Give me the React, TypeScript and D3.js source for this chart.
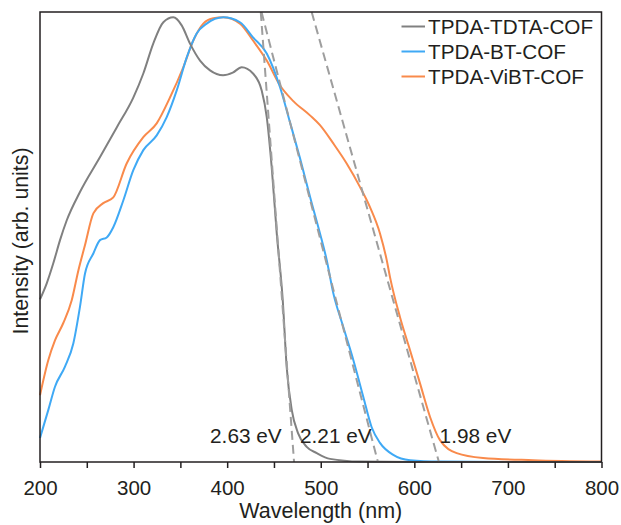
import React, { useEffect, useRef } from 'react';
import * as d3 from 'd3';

// TPDA-TDTA-COF (grey)
const tdtaNm = [200, 207.2, 214.2, 221.4, 228.5, 242.7, 264, 282, 299.7, 310.4, 321, 331.8, 342.4, 351.4, 360.3, 371, 381.7, 395.6, 406, 415.5, 427.6, 436.9, 442.3, 447.6, 453, 459.4, 463.6, 469, 475.7, 485, 495.7, 509.9, 542, 600, 800];
const tdtaI = [0.365, 0.401, 0.446, 0.498, 0.542, 0.606, 0.684, 0.751, 0.818, 0.872, 0.939, 0.987, 0.998, 0.98, 0.939, 0.901, 0.879, 0.868, 0.874, 0.886, 0.872, 0.834, 0.774, 0.661, 0.513, 0.363, 0.213, 0.117, 0.065, 0.034, 0.02, 0.007, 0.001, 0, 0];

// TPDA-BT-COF (blue)
const btNm = [200, 208.9, 216, 226.7, 235.6, 242.7, 248.1, 257, 264.1, 271.3, 278.3, 289, 299.7, 310.4, 324.7, 335.4, 346.1, 356.8, 367.4, 378.1, 395.9, 413.7, 427.6, 442.3, 456.5, 467.2, 477.8, 489.6, 499.2, 506.4, 513.4, 524.1, 534.8, 545.5, 554.4, 563.3, 577.5, 595.4, 627.4, 700, 800];
const btI = [0.054, 0.117, 0.169, 0.214, 0.266, 0.348, 0.423, 0.468, 0.498, 0.504, 0.527, 0.587, 0.655, 0.7, 0.733, 0.774, 0.834, 0.908, 0.962, 0.984, 0.998, 0.987, 0.953, 0.917, 0.841, 0.762, 0.682, 0.587, 0.513, 0.453, 0.379, 0.303, 0.229, 0.146, 0.078, 0.043, 0.016, 0.004, 0.001, 0, 0];

// TPDA-ViBT-COF (orange)
const vibtNm = [200, 208.9, 216, 224.9, 233.9, 241, 248.1, 257, 267.6, 278.3, 292.6, 310.4, 324.7, 338.9, 353.1, 363.8, 374.5, 385.2, 395.9, 413.7, 427.6, 442.3, 456.5, 470.7, 488.5, 499.2, 513.4, 527.7, 542, 552.6, 563.3, 570.5, 574, 584.7, 595.4, 606, 616.8, 627.4, 645.3, 673.4, 726.8, 800];
const vibtI = [0.15, 0.229, 0.273, 0.312, 0.363, 0.43, 0.487, 0.558, 0.581, 0.594, 0.67, 0.729, 0.76, 0.818, 0.886, 0.946, 0.984, 0.996, 0.998, 0.984, 0.946, 0.901, 0.845, 0.81, 0.778, 0.756, 0.715, 0.67, 0.617, 0.572, 0.513, 0.453, 0.415, 0.325, 0.251, 0.177, 0.101, 0.049, 0.02, 0.009, 0.004, 0.001];

const seriesNames = ['TPDA-TDTA-COF', 'TPDA-BT-COF', 'TPDA-ViBT-COF'];
const seriesColors = ['#808080', '#3fa9f5', '#f98a4b'];

// band gap tangents: where the dashed line leaves the top frame, and the gap labels
const gapEv = [2.63, 2.21, 1.98];
const tangentTopNm = [435.9, 436.7, 490.3];
const gapLabelNm = [381.7, 477.8, 627];

const xTicks = [200, 300, 400, 500, 600, 700, 800];
const xMinorTicks = [250, 350, 450, 550, 650, 750];

const FONT = '"Liberation Sans", Arial, Helvetica, sans-serif';

const AbsorptionChart = () => {
  const ref = useRef<SVGSVGElement>(null);

  useEffect(() => {
    const svg = d3.select(ref.current);
    svg.selectAll('*').remove();

    const margin = { top: 12, right: 19.5, bottom: 63, left: 40 };
    const width = 621;
    const height = 525;
    const yMax = 1.01;

    const x = d3.scaleLinear().domain([200, 800]).range([margin.left, width - margin.right]);
    const y = d3.scaleLinear().domain([0, yMax]).range([height - margin.bottom, margin.top]);

    const line = d3.line<[number, number]>()
      .x(d => x(d[0]))
      .y(d => y(d[1]))
      .curve(d3.curveMonotoneX);

    const series = [
      { nm: tdtaNm, val: tdtaI },
      { nm: btNm, val: btI },
      { nm: vibtNm, val: vibtI },
    ];

    // curves, grey drawn last so it sits on top like the original
    [2, 1, 0].forEach(i => {
      const pts = series[i].nm.map((n, k) => [n, series[i].val[k]] as [number, number]);
      svg.append('path')
        .attr('d', line(pts))
        .attr('fill', 'none')
        .attr('stroke', seriesColors[i])
        .attr('stroke-width', 2)
        .attr('stroke-linejoin', 'round');
    });

    // tangent lines
    gapEv.forEach((ev, i) => {
      svg.append('line')
        .attr('x1', x(tangentTopNm[i]))
        .attr('y1', y(yMax))
        .attr('x2', x(1240 / ev))
        .attr('y2', y(0))
        .attr('stroke', '#9e9e9e')
        .attr('stroke-width', 2)
        .attr('stroke-dasharray', '9,5');

      svg.append('text')
        .attr('x', x(gapLabelNm[i]))
        .attr('y', y(0.043))
        .attr('font-family', FONT)
        .attr('font-size', 20.8)
        .attr('fill', '#231f20')
        .text(`${ev.toFixed(2)} eV`);
    });

    // x axis with minor ticks
    const gx = svg.append('g').attr('transform', `translate(0,${height - margin.bottom})`);
    gx.call(d3.axisBottom(x).tickValues(xTicks).tickSize(6).tickPadding(12).tickFormat(d3.format('d')));
    gx.select('.domain').remove();
    gx.selectAll('line').attr('stroke', '#231f20').attr('stroke-width', 1.5);
    gx.selectAll('text').attr('font-family', FONT).attr('font-size', 20.5).attr('fill', '#231f20');
    const gm = svg.append('g').attr('transform', `translate(0,${height - margin.bottom})`);
    gm.call(d3.axisBottom(x).tickValues(xMinorTicks).tickSize(6).tickFormat(() => ''));
    gm.select('.domain').remove();
    gm.selectAll('line').attr('stroke', '#231f20').attr('stroke-width', 1.5);

    // frame
    svg.append('rect')
      .attr('x', margin.left)
      .attr('y', margin.top)
      .attr('width', width - margin.left - margin.right)
      .attr('height', height - margin.top - margin.bottom)
      .attr('fill', 'none')
      .attr('stroke', '#231f20')
      .attr('stroke-width', 1.5);

    // axis titles
    svg.append('text')
      .attr('x', (margin.left + width - margin.right) / 2)
      .attr('y', 518)
      .attr('text-anchor', 'middle')
      .attr('font-family', FONT)
      .attr('font-size', 21.5)
      .attr('fill', '#231f20')
      .text('Wavelength (nm)');

    svg.append('text')
      .attr('transform', `translate(28,${(margin.top + height - margin.bottom) / 2 + 4}) rotate(-90)`)
      .attr('text-anchor', 'middle')
      .attr('font-family', FONT)
      .attr('font-size', 21.3)
      .attr('fill', '#231f20')
      .text('Intensity (arb. units)');

    // legend
    const legend = svg.append('g');
    seriesNames.forEach((name, i) => {
      const ly = 26.5 + i * 25;
      legend.append('line')
        .attr('x1', 401.5).attr('x2', 425)
        .attr('y1', ly).attr('y2', ly)
        .attr('stroke', seriesColors[i])
        .attr('stroke-width', 2);
      legend.append('text')
        .attr('x', 428)
        .attr('y', ly)
        .attr('dy', '0.35em')
        .attr('font-family', FONT)
        .attr('font-size', 20.7)
        .attr('fill', '#231f20')
        .text(name);
    });
  }, []);

  return (
    <svg
      ref={ref}
      width={621}
      height={525}
      style={{ position: 'absolute', left: 0, top: 0, background: '#fff' }}
    />
  );
};

export default function App() {
  return <AbsorptionChart />;
}
